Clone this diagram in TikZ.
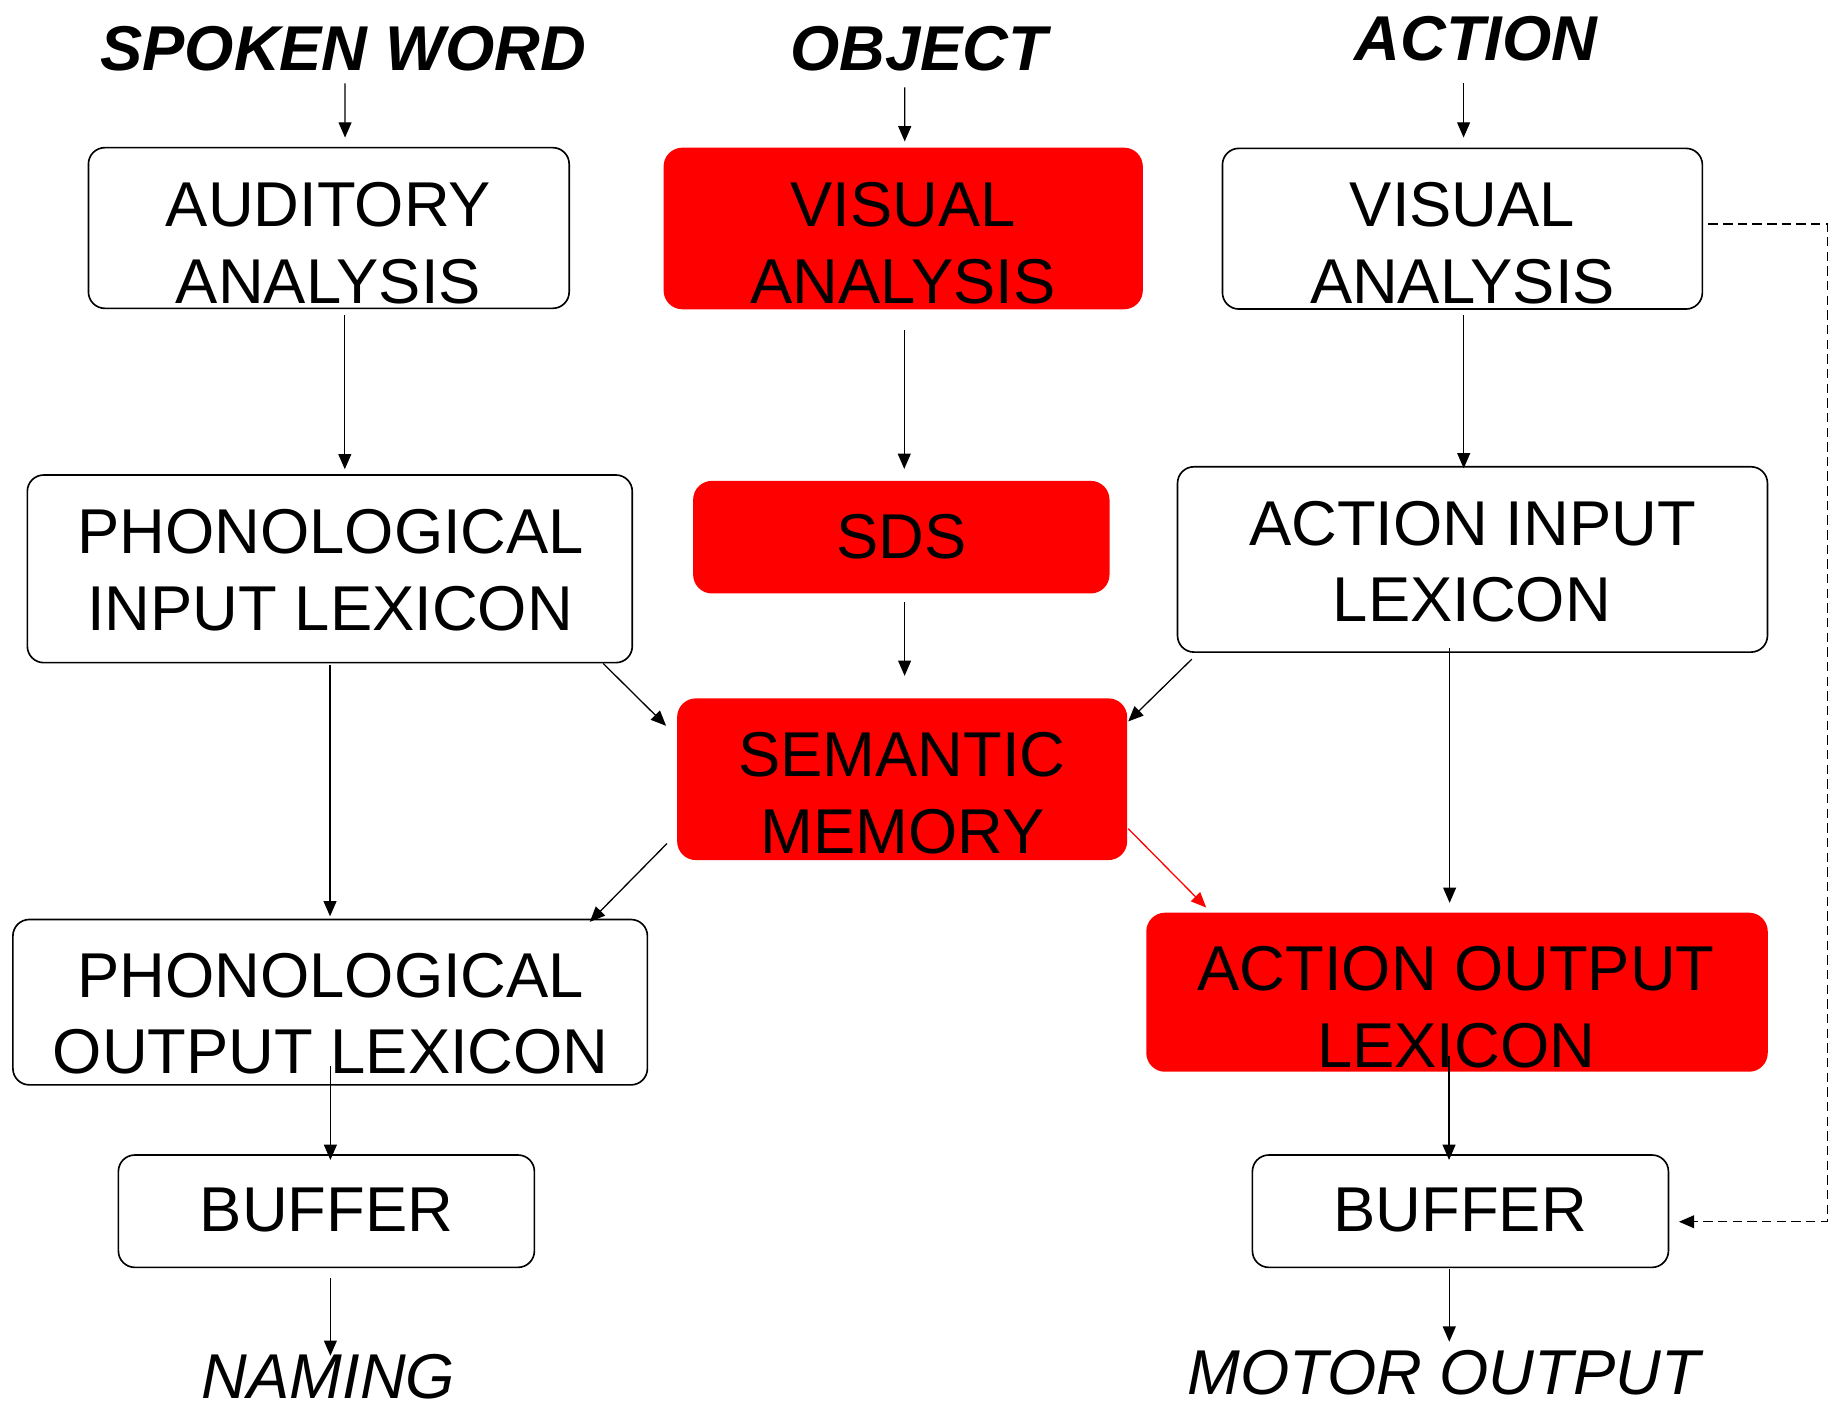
\documentclass[tikz,border=0pt]{standalone}
\usepackage{fontspec}
\setmainfont{Liberation Sans}
\usetikzlibrary{arrows.meta,calc}
\definecolor{boxred}{RGB}{255,0,0}
\begin{document}
\begin{tikzpicture}[x=1pt,y=-1pt,
  wbox/.style={draw, line width=1.4pt, rounded corners=14pt, fill=white, inner sep=0pt},
  rbox/.style={fill=boxred, rounded corners=16pt, inner sep=0pt},
  lbl/.style={font=\fontsize{54}{65}\selectfont, inner sep=0pt, anchor=base},
  hdr/.style={lbl, font=\fontsize{54}{65}\selectfont\bfseries\itshape},
  outlbl/.style={lbl, font=\fontsize{54}{65}\selectfont\itshape},
  arr/.style={line width=1.1pt, -{Triangle[length=13pt,width=11pt]}},
  redarr/.style={arr, draw=boxred},
  dsh/.style={line width=1.1pt, dash pattern=on 8pt off 4.5pt, -{Triangle[length=13pt,width=11pt]}}]

\useasboundingbox (0,0) rectangle (1568,1196);

% boxes
\node[wbox, minimum width=409.9pt, minimum height=137pt]   (aud)   at (280.35,194.4) {};
\node[rbox, minimum width=408.6pt, minimum height=137.8pt] (vaL)   at (770.1,194.8) {};
\node[wbox, minimum width=409.2pt, minimum height=137pt]   (vaR)   at (1246.9,195) {};
\node[wbox, minimum width=515.8pt, minimum height=160pt]   (phin)  at (281.2,485) {};
\node[rbox, minimum width=355pt,   minimum height=96pt]    (sds)   at (768.5,458) {};
\node[wbox, minimum width=503pt,   minimum height=158pt]   (ail)   at (1255.5,477) {};
\node[rbox, minimum width=383.7pt, minimum height=137.9pt] (sem)   at (769.2,664.4) {};
\node[wbox, minimum width=541pt,   minimum height=141pt]   (phout) at (281.5,854.5) {};
\node[rbox, minimum width=529.9pt, minimum height=135.6pt] (aout)  at (1242.3,846) {};
\node[wbox, minimum width=354.7pt, minimum height=95.8pt]  (bufL)  at (278.3,1032.7) {};
\node[wbox, minimum width=354.7pt, minimum height=95.8pt]  (bufR)  at (1245.2,1032.7) {};

% column headings
\node[hdr] (hdrA) at (292.5,60)   {SPOKEN WORD};
\node[hdr] (hdrO) at (783.5,59.7) {OBJECT};
\node[hdr] (hdrC) at (1258.5,51.2) {ACTION};

% box texts
\node[lbl] (audT1) at (280,193.5) {AUDITORY};
\node[lbl] (audT2) at (280,258.6) {ANALYSIS};
\node[lbl] (vaLT1) at (770,193.5) {VISUAL};
\node[lbl] (vaLT2) at (770,258.6) {ANALYSIS};
\node[lbl] (vaRT1) at (1247,193.5) {VISUAL};
\node[lbl] (vaRT2) at (1247,258.6) {ANALYSIS};
\node[lbl] (phinT1) at (282,471.8) {PHONOLOGICAL};
\node[lbl] (phinT2) at (281.5,537.2) {INPUT LEXICON};
\node[lbl] (sdsT) at (768.5,476) {SDS};
\node[lbl] (ailT1) at (1255.5,465) {ACTION INPUT};
\node[lbl] (ailT2) at (1255,530) {LEXICON};
\node[lbl] (semT1) at (769,662.3) {SEMANTIC};
\node[lbl] (semT2) at (769.5,727.6) {MEMORY};
\node[lbl] (phoutT1) at (282,850.5) {PHONOLOGICAL};
\node[lbl] (phoutT2) at (282,915.5) {OUTPUT LEXICON};
\node[lbl] (aoutT1) at (1241.5,844.7) {ACTION OUTPUT};
\node[lbl] (aoutT2) at (1241.5,910) {LEXICON};
\node[lbl] (bufLT) at (278.5,1050) {BUFFER};
\node[lbl] (bufRT) at (1245,1050) {BUFFER};

% outputs
\node[outlbl] (naming) at (280,1192) {NAMING};
\node[outlbl] (motor)  at (1231,1188.6) {MOTOR OUTPUT};

% connectors
\draw[arr] ($(hdrA.base)+(1.7,11)$) -- ($(aud.north)+(13.85,-7.9)$);
\draw[arr] ($(hdrO.base)+(-12.1,14.8)$) -- ($(vaL.north)+(1.3,-5.1)$);
\draw[arr] ($(hdrC.base)+(-10.6,19.8)$) -- ($(vaR.north)+(1,-8.5)$);
\draw[arr] ($(aud.south)+(13.65,5.1)$) -- ($(phin.north)+(12.8,-4.2)$);
\draw[arr] ($(vaL.south)+(0.9,17.3)$) -- ($(sds.north)+(2.5,-10)$);
\draw[arr] ($(vaR.south)+(1.1,4.5)$) -- ($(ail.north)+(-7.5,2)$);
\draw[arr] ($(sds.south)+(2.8,7)$) -- ($(sem.north)+(2.1,-19)$);
\draw[arr] ($(phin.south east)+(-25.5,0)$) -- ($(sem.north west)+(-9.2,23.6)$);
\draw[arr] ($(ail.south west)+(12.9,5.3)$) -- ($(sem.north east)+(0.7,19.9)$);
\draw[arr] ($(sem.south west)+(-8.5,-14.3)$) -- ($(phout.north east)+(-49.8,2.7)$);
\draw[redarr] ($(sem.south east)+(0.7,-27)$) -- ($(aout.north west)+(51.3,-4.2)$);
\draw[arr] ($(phin.south)+(0.2,1)$) -- ($(phout.north)+(-0.1,-2)$);
\draw[arr] ($(ail.south)+(-19.5,-4)$) -- ($(aout.north)+(-6.3,-8.2)$);
\draw[arr] ($(phout.south)+(0.2,-17)$) -- ($(bufL.north)+(3.4,4.9)$);
\draw[arr] ($(aout.south)+(-6.8,-13.8)$) -- ($(bufR.north)+(-9.7,4.9)$);
\draw[arr] ($(bufL.south)+(3.4,8.4)$) -- ($(naming.base)+(1.7,-36)$);
\draw[arr] ($(bufR.south)+(-9.5,0.9)$) -- ($(motor.base)+(4.7,-44.6)$);
\draw[dsh] ($(vaR.east)+(4.5,-4)$) -- ++(101.5,0) |- ($(bufR.east)+(8.3,9)$);

\end{tikzpicture}
\end{document}
